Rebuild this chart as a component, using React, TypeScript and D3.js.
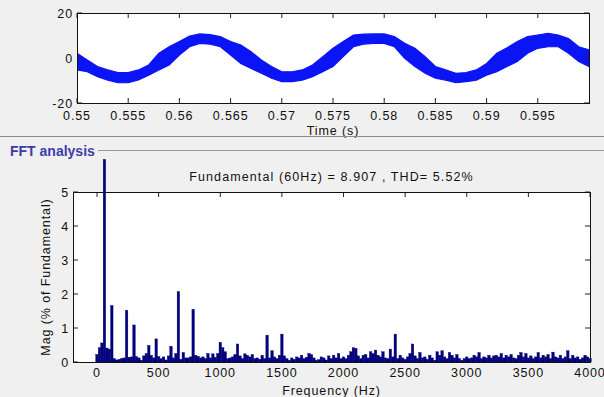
import React from "react";
import * as d3 from "d3";

const W = 604;
const H = 397;

// Time-domain band (upper / lower edge of the noisy waveform)
const times = [
  0.55, 0.551, 0.552, 0.553, 0.554, 0.555, 0.556, 0.557, 0.558, 0.559,
  0.56, 0.561, 0.562, 0.563, 0.564, 0.565, 0.566, 0.567, 0.568, 0.569,
  0.57, 0.571, 0.572, 0.573, 0.574, 0.575, 0.576, 0.577, 0.578, 0.579,
  0.58, 0.581, 0.582, 0.583, 0.584, 0.585, 0.586, 0.587, 0.588, 0.589,
  0.59, 0.591, 0.592, 0.593, 0.594, 0.595, 0.596, 0.597, 0.598, 0.599, 0.6,
];
const upper = [
  2.1, -0.9, -3.8, -5.3, -6.5, -6.5, -5.3, -3.1, 2.1, 5,
  7.3, 9.8, 10.7, 10.4, 9.5, 7.3, 5.8, 2.8, -0.9, -3.8,
  -6.1, -6.1, -5.3, -3.1, 0.6, 4.3, 7.3, 10.2, 10.6, 10.7,
  10.7, 9.5, 6.5, 4.3, 0.6, -3.8, -5.3, -6.8, -6.5, -5.3,
  -2.4, 2.1, 4.5, 7.3, 9.5, 10.2, 11, 10.2, 8.7, 5, 3.6,
];
const lower = [
  -5.3, -6.1, -8.3, -9.8, -11, -11, -9.8, -7.6, -5.3, -3.1,
  1.3, 5, 6.5, 6.2, 5, 1.3, -2.4, -4.6, -6.8, -9,
  -10.5, -10.5, -9.8, -8.3, -6.1, -3.8, 0.6, 5, 6.2, 6.5,
  6.5, 5, -0.1, -3.8, -6.8, -9, -9.8, -11, -10.5, -9.8,
  -7.6, -6.1, -3.8, -1.6, 2.1, 4.3, 5, 5, 2.1, -1.6, -3.8,
];
const timeTicks = [0.55, 0.555, 0.56, 0.565, 0.57, 0.575, 0.58, 0.585, 0.59, 0.595];
const timeTickLabels = ["0.55", "0.555", "0.56", "0.565", "0.57", "0.575", "0.58", "0.585", "0.59", "0.595"];
const ampTicks = [-20, 0, 20];

// FFT spectrum, 20 Hz bins from 0 to 4000 Hz (% of fundamental)
const binStep = 20;
const mags = [
  0.22, 0.42, 0.56, 5.96, 0.41, 0.38, 1.66, 0.1, 0.06, 0.08,
  0.1, 0.12, 1.52, 0.14, 0.15, 1.09, 0.16, 0.12, 0.05, 0.18,
  0.25, 0.49, 0.2, 0.12, 0.68, 0.16, 0.1, 0.15, 0.06, 0.18,
  0.46, 0.12, 0.25, 2.07, 0.08, 0.28, 0.12, 0.12, 0.15, 1.55,
  0.2, 0.17, 0.12, 0.15, 0.1, 0.25, 0.12, 0.24, 0.14, 0.25,
  0.58, 0.42, 0.3, 0.1, 0.12, 0.15, 0.22, 0.53, 0.18, 0.1,
  0.24, 0.2, 0.15, 0.22, 0.1, 0.12, 0.08, 0.2, 0.1, 0.79,
  0.12, 0.33, 0.15, 0.1, 0.2, 0.82, 0.18, 0.1, 0.05, 0.12,
  0.08, 0.15, 0.12, 0.2, 0.1, 0.14, 0.25, 0.22, 0.12, 0.05,
  0.07, 0.15, 0.12, 0.06, 0.18, 0.1, 0.2, 0.12, 0.25, 0.1,
  0.15, 0.1, 0.2, 0.3, 0.42, 0.4, 0.18, 0.1, 0.2, 0.22,
  0.12, 0.3, 0.25, 0.35, 0.2, 0.15, 0.3, 0.12, 0.1, 0.38,
  0.15, 0.82, 0.1, 0.2, 0.12, 0.08, 0.15, 0.25, 0.53, 0.18,
  0.1, 0.28, 0.12, 0.15, 0.08, 0.2, 0.12, 0.05, 0.3, 0.2,
  0.33, 0.15, 0.1, 0.28, 0.2, 0.12, 0.22, 0.1, 0.05, 0.1,
  0.15, 0.1, 0.12, 0.2, 0.15, 0.28, 0.1, 0.15, 0.12, 0.2,
  0.12, 0.18, 0.2, 0.15, 0.25, 0.12, 0.2, 0.15, 0.22, 0.12,
  0.1, 0.2, 0.28, 0.15, 0.25, 0.12, 0.18, 0.1, 0.15, 0.28,
  0.12, 0.2, 0.15, 0.22, 0.1, 0.29, 0.15, 0.12, 0.2, 0.1,
  0.15, 0.33, 0.1, 0.2, 0.12, 0.15, 0.08, 0.12, 0.2, 0.15,
  0.1,
];
const freqTicks = [0, 500, 1000, 1500, 2000, 2500, 3000, 3500, 4000];
const magTicks = [0, 1, 2, 3, 4, 5];

const title = "Fundamental (60Hz) = 8.907 , THD= 5.52%";
const font = "'Liberation Sans', Arial, sans-serif";

// layout
const top = { left: 77, right: 589, top: 13, bottom: 103 };
const bot = { left: 73, right: 590, top: 192, bottom: 362 };
const tk = 5;

export default function App() {
  const xT = d3.scaleLinear().domain([0.55, 0.6]).range([top.left, top.right]);
  const yT = d3.scaleLinear().domain([-20, 20]).range([top.bottom, top.top]);

  const band = times.map((t, i) => ({ t, hi: upper[i], lo: lower[i] }));
  const areaPath = d3
    .area<{ t: number; hi: number; lo: number }>()
    .x((d) => xT(d.t))
    .y0((d) => yT(d.lo))
    .y1((d) => yT(d.hi))
    .curve(d3.curveLinear)(band);

  const xF = d3.scaleLinear().domain([-195, 4000]).range([bot.left, bot.right]);
  const yM = d3.scaleLinear().domain([0, 5]).range([bot.bottom, bot.top]);
  const bw = xF(binStep) - xF(0);

  const txt = { fontFamily: font, fontSize: 12.5, letterSpacing: 0.9, fill: "#111" } as const;

  return (
    <svg
      width={W}
      height={H}
      style={{ position: "absolute", left: 0, top: 0, background: "#f0f0f0" }}
    >
      <defs>
        <clipPath id="clipTop">
          <rect x={top.left} y={top.top} width={top.right - top.left} height={top.bottom - top.top} />
        </clipPath>
      </defs>

      {/* time-domain plot */}
      <rect x={top.left} y={top.top} width={top.right - top.left} height={top.bottom - top.top} fill="#fff" />
      <path d={areaPath ?? ""} fill="#0a14f5" stroke="#0a14f5" strokeWidth={1.2} clipPath="url(#clipTop)" />
      <g stroke="#222" strokeWidth={1}>
        {timeTicks.map((t) => (
          <g key={t}>
            <line x1={xT(t)} x2={xT(t)} y1={top.bottom} y2={top.bottom - tk} />
            <line x1={xT(t)} x2={xT(t)} y1={top.top} y2={top.top + tk} />
          </g>
        ))}
        {ampTicks.map((v) => (
          <g key={v}>
            <line x1={top.left} x2={top.left + tk} y1={yT(v)} y2={yT(v)} />
            <line x1={top.right} x2={top.right - tk} y1={yT(v)} y2={yT(v)} />
          </g>
        ))}
      </g>
      <rect
        x={top.left + 0.5}
        y={top.top + 0.5}
        width={top.right - top.left}
        height={top.bottom - top.top}
        fill="none"
        stroke="#111"
      />
      {timeTicks.map((t, i) => (
        <text key={t} x={xT(t)} y={120} textAnchor="middle" {...txt}>
          {timeTickLabels[i]}
        </text>
      ))}
      {ampTicks.map((v) => (
        <text key={v} x={top.left - 4} y={yT(v) + 4.5} textAnchor="end" {...txt}>
          {v}
        </text>
      ))}
      <text x={(top.left + top.right) / 2} y={135} textAnchor="middle" {...txt}>
        Time (s)
      </text>
      <line x1={0} x2={W} y1={136.5} y2={136.5} stroke="#8c8c8c" />

      {/* FFT panel */}
      <line x1={98} x2={W} y1={150.5} y2={150.5} stroke="#9a9a9a" />
      <text x={10} y={156} fontFamily={font} fontSize={14} fontWeight="bold" fill="#3c3ca8">
        FFT analysis
      </text>
      <text x={(bot.left + bot.right) / 2} y={181} textAnchor="middle" {...txt} letterSpacing={1.1}>
        {title}
      </text>

      <rect x={bot.left} y={bot.top} width={bot.right - bot.left} height={bot.bottom - bot.top} fill="#fff" />
      <g fill="#000080" stroke="#00006a" strokeWidth={0.4}>
        {mags.map((m, i) => (
          <rect
            key={i}
            x={xF(i * binStep) - bw / 2}
            y={yM(m)}
            width={bw}
            height={yM(0) - yM(m)}
          />
        ))}
      </g>
      <g stroke="#222" strokeWidth={1}>
        {freqTicks.map((f) => (
          <g key={f}>
            <line x1={xF(f)} x2={xF(f)} y1={bot.top} y2={bot.top + tk} />
          </g>
        ))}
        {magTicks.map((v) => (
          <g key={v}>
            <line x1={bot.left} x2={bot.left + tk} y1={yM(v)} y2={yM(v)} />
            <line x1={bot.right} x2={bot.right - tk} y1={yM(v)} y2={yM(v)} />
          </g>
        ))}
      </g>
      <rect
        x={bot.left + 0.5}
        y={bot.top + 0.5}
        width={bot.right - bot.left}
        height={bot.bottom - bot.top}
        fill="none"
        stroke="#111"
      />
      {freqTicks.map((f) => (
        <text key={f} x={xF(f)} y={377} textAnchor="middle" {...txt}>
          {f}
        </text>
      ))}
      {magTicks.map((v) => (
        <text key={v} x={69} y={yM(v) + 4.5} textAnchor="end" {...txt}>
          {v}
        </text>
      ))}
      <text x={(bot.left + bot.right) / 2} y={395} textAnchor="middle" {...txt}>
        Frequency (Hz)
      </text>
      <text
        transform={`translate(50, ${(bot.top + bot.bottom) / 2}) rotate(-90)`}
        textAnchor="middle"
        {...txt}
      >
        Mag (% of Fundamental)
      </text>
    </svg>
  );
}
